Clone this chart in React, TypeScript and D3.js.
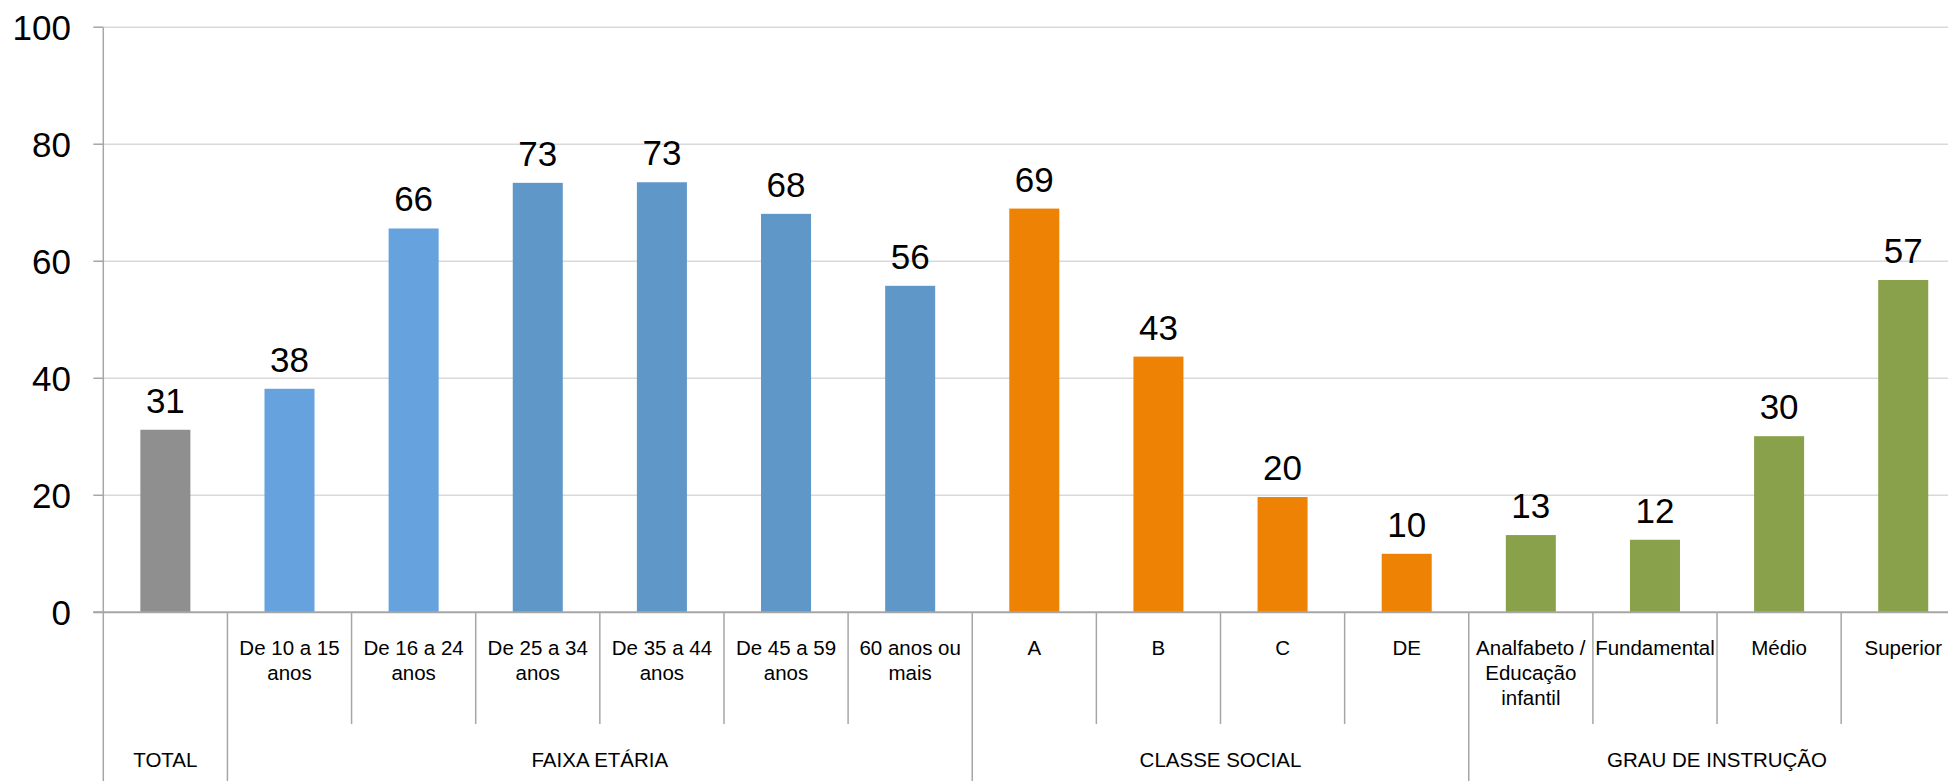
import React from "react";
import * as d3 from "d3";

const categories: string[][] = [
  [""],
  ["De 10 a 15", "anos"],
  ["De 16 a 24", "anos"],
  ["De 25 a 34", "anos"],
  ["De 35 a 44", "anos"],
  ["De 45 a 59", "anos"],
  ["60 anos ou", "mais"],
  ["A"],
  ["B"],
  ["C"],
  ["DE"],
  ["Analfabeto /", "Educação", "infantil"],
  ["Fundamental"],
  ["Médio"],
  ["Superior"],
];
const values = [31.2, 38.2, 65.6, 73.4, 73.5, 68.1, 55.8, 69.0, 43.7, 19.7, 10.0, 13.2, 12.4, 30.1, 56.8];
const labels = ["31", "38", "66", "73", "73", "68", "56", "69", "43", "20", "10", "13", "12", "30", "57"];
const colorKeys = ["total", "blueA", "blueA", "blueB", "blueB", "blueB", "blueB", "orange", "orange", "orange", "orange", "green", "green", "green", "green"];
const groups = [
  { name: "TOTAL", start: 0, end: 1 },
  { name: "FAIXA ETÁRIA", start: 1, end: 7 },
  { name: "CLASSE SOCIAL", start: 7, end: 11 },
  { name: "GRAU DE INSTRUÇÃO", start: 11, end: 15 },
];
const yTicks = [0, 20, 40, 60, 80, 100];

const palette: Record<string, string> = {
  total: "#8f8f8f",
  blueA: "#65a2de",
  blueB: "#6097c9",
  orange: "#ee8204",
  green: "#8aa14b",
};

const W = 1948;
const H = 781;
const X0 = 103.3;
const X1 = 1965.3;
const Y0 = 612.3;
const Y100 = 27.2;
const FONT = "'Liberation Sans', Arial, sans-serif";
const SMALL = 20.5;

export default function App() {
  const idx = categories.map((_, i) => String(i));
  const x = d3.scaleBand<string>().domain(idx).range([X0, X1]).padding(0);
  const step = x.step();
  const barW = step * 0.403;
  const y = d3.scaleLinear().domain([0, 100]).range([Y0, Y100]);
  const axisColor = "#a6a6a6";
  const gridColor = "#d9d9d9";
  const groupBounds = new Set(groups.map((g) => g.start).concat(groups.map((g) => g.end)));

  return (
    <svg
      width={W}
      height={H}
      style={{ position: "absolute", left: 0, top: 0, background: "#fff" }}
      fontFamily={FONT}
    >
      {yTicks.slice(1).map((t) => (
        <line key={"g" + t} x1={X0} x2={W} y1={y(t)} y2={y(t)} stroke={gridColor} strokeWidth={1.5} />
      ))}
      {yTicks.map((t) => (
        <g key={"t" + t}>
          <line x1={X0 - 10} x2={X0} y1={y(t)} y2={y(t)} stroke={axisColor} strokeWidth={1.5} />
          <text x={71} y={y(t) + 12.5} textAnchor="end" fontSize={35} fill="#000">
            {t}
          </text>
        </g>
      ))}
      {values.map((v, i) => {
        const cx = (x(String(i)) as number) + step / 2;
        return (
          <g key={"b" + i}>
            <rect x={cx - barW / 2} y={y(v)} width={barW} height={Y0 - y(v)} fill={palette[colorKeys[i]]} />
            <text x={cx} y={y(v) - 17} textAnchor="middle" fontSize={35} fill="#000">
              {labels[i]}
            </text>
          </g>
        );
      })}
      <line x1={X0} x2={X0} y1={Y100} y2={H} stroke={axisColor} strokeWidth={1.5} />
      <line x1={X0 - 10} x2={W} y1={Y0} y2={Y0} stroke={axisColor} strokeWidth={2} />
      {d3.range(1, categories.length + 1).map((k) => {
        const bx = X0 + k * step;
        const isGroup = groupBounds.has(k);
        return (
          <line key={"d" + k} x1={bx} x2={bx} y1={Y0} y2={isGroup ? H : 724} stroke={axisColor} strokeWidth={1.5} />
        );
      })}
      {categories.map((lines, i) => {
        const cx = (x(String(i)) as number) + step / 2;
        return (
          <text key={"c" + i} x={cx} y={655} textAnchor="middle" fontSize={SMALL} fill="#000">
            {lines.map((l, j) => (
              <tspan key={j} x={cx} y={655 + j * 25}>
                {l}
              </tspan>
            ))}
          </text>
        );
      })}
      {groups.map((g) => {
        const cx = X0 + ((g.start + g.end) / 2) * step;
        return (
          <text key={g.name} x={cx} y={767} textAnchor="middle" fontSize={SMALL} fill="#000">
            {g.name}
          </text>
        );
      })}
    </svg>
  );
}
